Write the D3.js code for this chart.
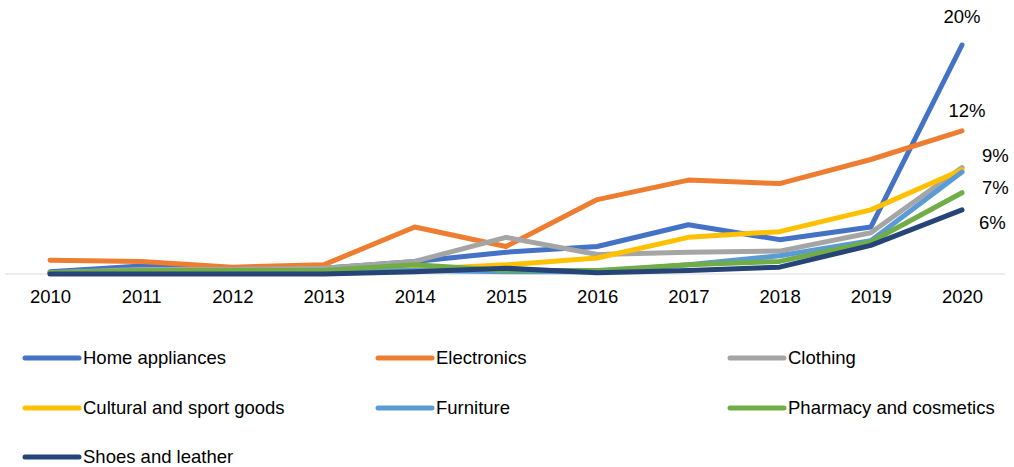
<!DOCTYPE html>
<html>
<head>
<meta charset="utf-8">
<script src="https://cdn.jsdelivr.net/npm/d3@7"></script>
<style>
  body { margin: 0; background: #fff; }
  svg text { font-family: "Liberation Sans", Arial, sans-serif; fill: #000; }
</style>
</head>
<body>
<div id="chart"></div>
<script>
// years on the x axis
var years = [2010, 2011, 2012, 2013, 2014, 2015, 2016, 2017, 2018, 2019, 2020];

// share of online sales, %
var homeAppliances = [0.2, 0.7, 0.5, 0.5, 1.1, 1.9, 2.4, 4.3, 3.0, 4.1, 20.0];
var electronics    = [1.2, 1.1, 0.6, 0.8, 4.1, 2.4, 6.5, 8.2, 7.9, 10.0, 12.5];
var clothing       = [0.1, 0.4, 0.4, 0.5, 1.1, 3.2, 1.7, 1.9, 2.0, 3.6, 9.3];
var cultural       = [0.1, 0.1, 0.2, 0.2, 0.4, 0.8, 1.4, 3.2, 3.7, 5.6, 9.1];
var furniture      = [0.1, 0.2, 0.2, 0.2, 0.3, 0.2, 0.2, 0.8, 1.6, 2.9, 8.9];
var pharmacy       = [0.1, 0.3, 0.3, 0.3, 0.8, 0.3, 0.3, 0.8, 1.1, 2.8, 7.1];
var shoes          = [0.0, 0.0, 0.0, 0.0, 0.2, 0.5, 0.1, 0.3, 0.6, 2.5, 5.6];

var seriesNames = ["Home appliances", "Electronics", "Clothing", "Cultural and sport goods",
                   "Furniture", "Pharmacy and cosmetics", "Shoes and leather"];
var seriesValues = [homeAppliances, electronics, clothing, cultural, furniture, pharmacy, shoes];
var colors = ["#4472C4", "#ED7D31", "#A5A5A5", "#FFC000", "#5B9BD5", "#70AD47", "#264478"];

// end labels: which series, what text
var endLabelSeries = [0, 1, 2, 5, 6];
var endLabelText = ["20%", "12%", "9%", "7%", "6%"];
var endLabelOffset = [[0, -28, "middle"], [5, -20, "middle"], [20, -12, "start"], [20, -5, "start"], [17, 13, "start"]];

var width = 1014, height = 467;
var fontSize = "18.5px";

var svg = d3.select("#chart").append("svg")
  .attr("width", width)
  .attr("height", height);

var x = d3.scalePoint()
  .domain(years)
  .range([50, 962]);

var y = d3.scaleLinear()
  .domain([0, 20])
  .range([274, 45]);

// baseline
svg.append("line")
  .attr("x1", 5)
  .attr("x2", 1005)
  .attr("y1", y(0))
  .attr("y2", y(0))
  .style("stroke", "#d9d9d9")
  .style("stroke-width", 1);

// x axis labels
var xAxis = d3.axisBottom(x).tickSize(0).tickPadding(16);
var gx = svg.append("g")
  .attr("transform", "translate(0," + y(0) + ")")
  .call(xAxis);
gx.select(".domain").remove();
gx.selectAll("text")
  .style("font-size", fontSize)
  .style("font-family", "Liberation Sans, Arial, sans-serif")
  .style("fill", "#000");

var line = d3.line()
  .x(function(d, i) { return x(years[i]); })
  .y(function(d) { return y(d); });

for (var s = 0; s < seriesValues.length; s++) {
  svg.append("path")
    .datum(seriesValues[s])
    .attr("d", line)
    .style("fill", "none")
    .style("stroke", colors[s])
    .style("stroke-width", 5)
    .style("stroke-linecap", "round")
    .style("stroke-linejoin", "round");
}

// labels at the 2020 points
for (var k = 0; k < endLabelSeries.length; k++) {
  var vals = seriesValues[endLabelSeries[k]];
  var last = vals[vals.length - 1];
  svg.append("text")
    .attr("x", x(2020) + endLabelOffset[k][0])
    .attr("y", y(last) + endLabelOffset[k][1])
    .attr("dy", "0.35em")
    .style("text-anchor", endLabelOffset[k][2])
    .style("font-size", fontSize)
    .text(endLabelText[k]);
}

// legend, three columns
var legendCols = [23, 376, 728];
var legendRows = [358, 408, 457];
for (var j = 0; j < seriesNames.length; j++) {
  var lx = legendCols[j % 3], ly = legendRows[Math.floor(j / 3)];
  svg.append("line")
    .attr("x1", lx + 2)
    .attr("x2", lx + 56)
    .attr("y1", ly)
    .attr("y2", ly)
    .style("stroke", colors[j])
    .style("stroke-width", 5)
    .style("stroke-linecap", "round");
  svg.append("text")
    .attr("x", lx + 60)
    .attr("y", ly)
    .attr("dy", "0.35em")
    .style("font-size", fontSize)
    .text(seriesNames[j]);
}
</script>
</body>
</html>
